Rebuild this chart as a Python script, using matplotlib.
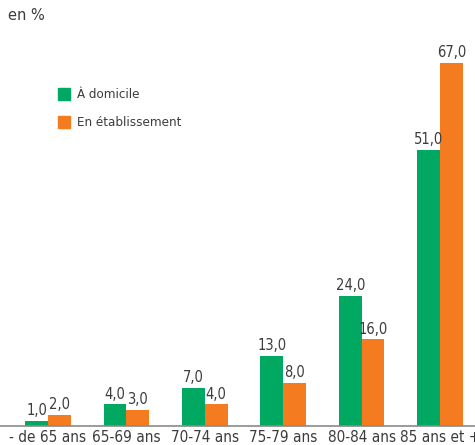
import numpy as np
import matplotlib
matplotlib.use("Agg")
from matplotlib import pyplot as plt
from matplotlib.patches import Rectangle

categories = ["- de 65 ans", "65-69 ans", "70-74 ans", "75-79 ans", "80-84 ans", "85 ans et +"]
domicile = [1.0, 4.0, 7.0, 13.0, 24.0, 51.0]
etablissement = [2.0, 3.0, 4.0, 8.0, 16.0, 67.0]
series_names = ["À domicile", "En établissement"]

green = "#00a862"
orange = "#f47b20"
txt = "#3c3c3c"

fp = dict(family="DejaVu Sans", stretch="condensed")

fig = plt.figure(figsize=(4.75, 4.45), dpi=100)
ax = fig.add_axes([0, 19 / 445, 1, 426 / 445])

x = np.arange(len(categories))
w = 0.29
b1 = ax.bar(x - w / 2, domicile, w, color=green)
b2 = ax.bar(x + w / 2, etablissement, w, color=orange)

for bars, vals in ((b1, domicile), (b2, etablissement)):
    for r, v in zip(bars, vals):
        ax.text(r.get_x() + r.get_width() / 2, v + 0.5, f"{v:.1f}".replace(".", ","),
                ha="center", va="bottom", fontsize=10.5, color=txt, **fp)

ax.set_xlim(-0.612, 5.446)
ax.set_ylim(0, 78.6)
for s in ["top", "right", "left"]:
    ax.spines[s].set_visible(False)
ax.spines["bottom"].set_color("#8a8a8a")
ax.spines["bottom"].set_linewidth(1.2)
ax.set_yticks([])
ax.set_xticks(x)
ax.set_xticklabels(categories, fontsize=11, color=txt, **fp)
ax.tick_params(axis="x", length=0, pad=3)

fig.text(8 / 475, 1 - 15 / 445, "en %", fontsize=10.5, color=txt, va="center", ha="left")

# legend
for i, (name, col) in enumerate(zip(series_names, [green, orange])):
    yc = 94 + i * 28
    fig.patches.append(Rectangle((58 / 475, 1 - (yc + 6) / 445), 12 / 475, 12 / 445,
                                 transform=fig.transFigure, color=col))
    fig.text(77 / 475, 1 - yc / 445, name, fontsize=9.5, color=txt, va="center",
             ha="left", **fp)

fig.savefig("out.png", dpi=100)
